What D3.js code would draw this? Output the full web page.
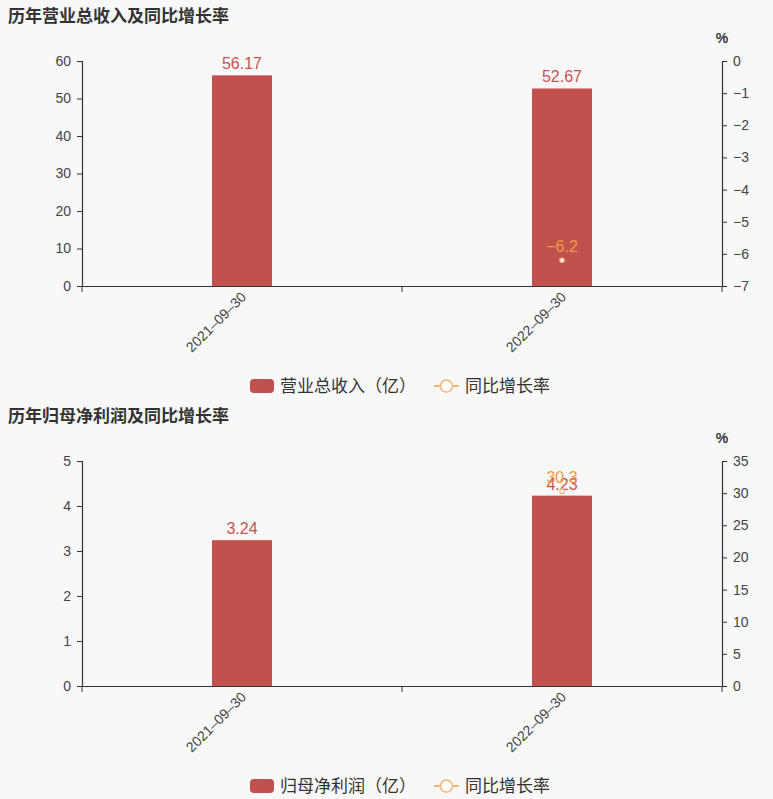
<!DOCTYPE html>
<html><head><meta charset="utf-8">
<script src="https://cdn.jsdelivr.net/npm/d3@7"></script>
<style>
html,body{margin:0;padding:0;background:#f8f8f8;}
svg{display:block;font-family:"Liberation Sans","Noto Sans CJK SC",sans-serif;}
</style></head>
<body>
<svg id="c" width="773" height="799"></svg>
<script>
const categories = ["2021-09-30", "2022-09-30"];
const revenue = [56.17, 52.67];
const revenueGrowth = [null, -6.2];
const profit = [3.24, 4.23];
const profitGrowth = [null, 30.3];
const titles = ["历年营业总收入及同比增长率", "历年归母净利润及同比增长率"];
const barNames = ["营业总收入（亿）", "归母净利润（亿）"];
const lineName = "同比增长率";
const leftTicks1 = [0,10,20,30,40,50,60];
const rightTicks1 = [0,-1,-2,-3,-4,-5,-6,-7];
const leftTicks2 = [0,1,2,3,4,5];
const rightTicks2 = [0,5,10,15,20,25,30,35];

const svg = d3.select("#c");
const barColor = "#c1514e", labelRed = "#c9524f", lineColor = "#f5b27a", lineLabel = "#f39a45", axisColor = "#333", textColor = "#444";
const fmtMinus = v => String(v).replace("-", "\u2212");

function panel(oy, title, barName, bars, growth, lDomain, lTicks, rDomain, rTicks) {
  const g = svg.append("g").attr("transform", `translate(0,${oy})`);
  g.append("text").attr("x", 8).attr("y", 22).attr("font-size", 17).attr("font-weight", "bold")
    .attr("fill", "#333").text(title);
  const left = 82, right = 722, top = 61, bottom = 286;
  const x = d3.scaleBand().domain(categories).range([left, right]);
  const yL = d3.scaleLinear().domain(lDomain).range([bottom, top]);
  const yR = d3.scaleLinear().domain(rDomain).range([bottom, top]);

  // bars
  const bw = 60;
  g.selectAll("rect.bar").data(bars).join("rect")
    .attr("x", (d, i) => x(categories[i]) + x.bandwidth() / 2 - bw / 2)
    .attr("y", d => yL(d)).attr("width", bw).attr("height", d => bottom - yL(d))
    .attr("fill", barColor);
  g.selectAll("text.bl").data(bars).join("text")
    .attr("x", (d, i) => x(categories[i]) + x.bandwidth() / 2)
    .attr("y", d => yL(d) - 6).attr("text-anchor", "middle").attr("font-size", 16)
    .attr("fill", labelRed).text(d => d.toFixed(2));

  // axes
  const axL = d3.axisLeft(yL).tickValues(lTicks).tickSize(5).tickPadding(6).tickFormat(d => String(d));
  const gl = g.append("g").attr("transform", `translate(${left},0)`).call(axL);
  const axR = d3.axisRight(yR).tickValues(rTicks).tickSize(5).tickPadding(6).tickFormat(d => fmtMinus(d));
  const gr = g.append("g").attr("transform", `translate(${right},0)`).call(axR);
  const axB = d3.axisBottom(x).tickSize(0).tickFormat("");
  const gb = g.append("g").attr("transform", `translate(0,${bottom})`).call(axB);
  // boundary ticks on x axis
  const bounds = [left, left + x.step(), right];
  gb.selectAll("line.bt").data(bounds).join("line").attr("class", "bt")
    .attr("x1", d => d).attr("x2", d => d).attr("y1", 0).attr("y2", 6).attr("stroke", axisColor);
  gb.selectAll("text.xl").data(categories).join("text").attr("class", "xl")
    .attr("transform", d => `translate(${x(d) + x.bandwidth() / 2 - 2},${5}) rotate(-45)`)
    .attr("text-anchor", "end").attr("dy", "0.7em").attr("font-size", 14).attr("fill", textColor)
    .text(d => d.replace(/-/g, "\u2013"));
  [gl, gr, gb].forEach(a => {
    a.selectAll(".domain").attr("stroke", axisColor).attr("stroke-width", 1.2);
    a.selectAll(".tick line").attr("stroke", axisColor);
    a.selectAll(".tick text").attr("fill", textColor).attr("font-size", 14)
      .attr("font-family", "Liberation Sans, sans-serif");
  });
  g.append("text").attr("x", right).attr("y", 43).attr("text-anchor", "middle")
    .attr("font-size", 14).attr("font-weight", "bold").attr("fill", "#333").text("%");

  // growth points
  const pts = growth.map((v, i) => ({ v, c: categories[i] })).filter(d => d.v !== null);
  g.selectAll("circle.pt").data(pts).join("circle")
    .attr("cx", d => x(d.c) + x.bandwidth() / 2).attr("cy", d => yR(d.v)).attr("r", 2.2)
    .attr("fill", "#fff").attr("stroke", lineColor).attr("stroke-width", 1.2);
  g.selectAll("text.pl").data(pts).join("text")
    .attr("x", d => x(d.c) + x.bandwidth() / 2).attr("y", d => yR(d.v) - 8)
    .attr("text-anchor", "middle").attr("font-size", 16).attr("fill", lineLabel)
    .text(d => fmtMinus(d.v));

  // legend
  const ly = 386;
  const lg = g.append("g");
  lg.append("rect").attr("x", 250).attr("y", ly - 7).attr("width", 24).attr("height", 14).attr("rx", 4)
    .attr("fill", barColor);
  lg.append("text").attr("x", 280).attr("y", ly + 6).attr("font-size", 17).attr("fill", "#333").text(barName);
  lg.append("line").attr("x1", 434).attr("x2", 459).attr("y1", ly).attr("y2", ly)
    .attr("stroke", lineColor).attr("stroke-width", 2);
  lg.append("circle").attr("cx", 446.5).attr("cy", ly).attr("r", 6).attr("fill", "#fff")
    .attr("stroke", lineColor).attr("stroke-width", 1.5);
  lg.append("text").attr("x", 465).attr("y", ly + 6).attr("font-size", 17).attr("fill", "#333").text(lineName);
}

panel(0, titles[0], barNames[0], revenue, revenueGrowth, [0, 60], leftTicks1, [-7, 0], rightTicks1);
panel(400, titles[1], barNames[1], profit, profitGrowth, [0, 5], leftTicks2, [0, 35], rightTicks2);
</script>
</body></html>
